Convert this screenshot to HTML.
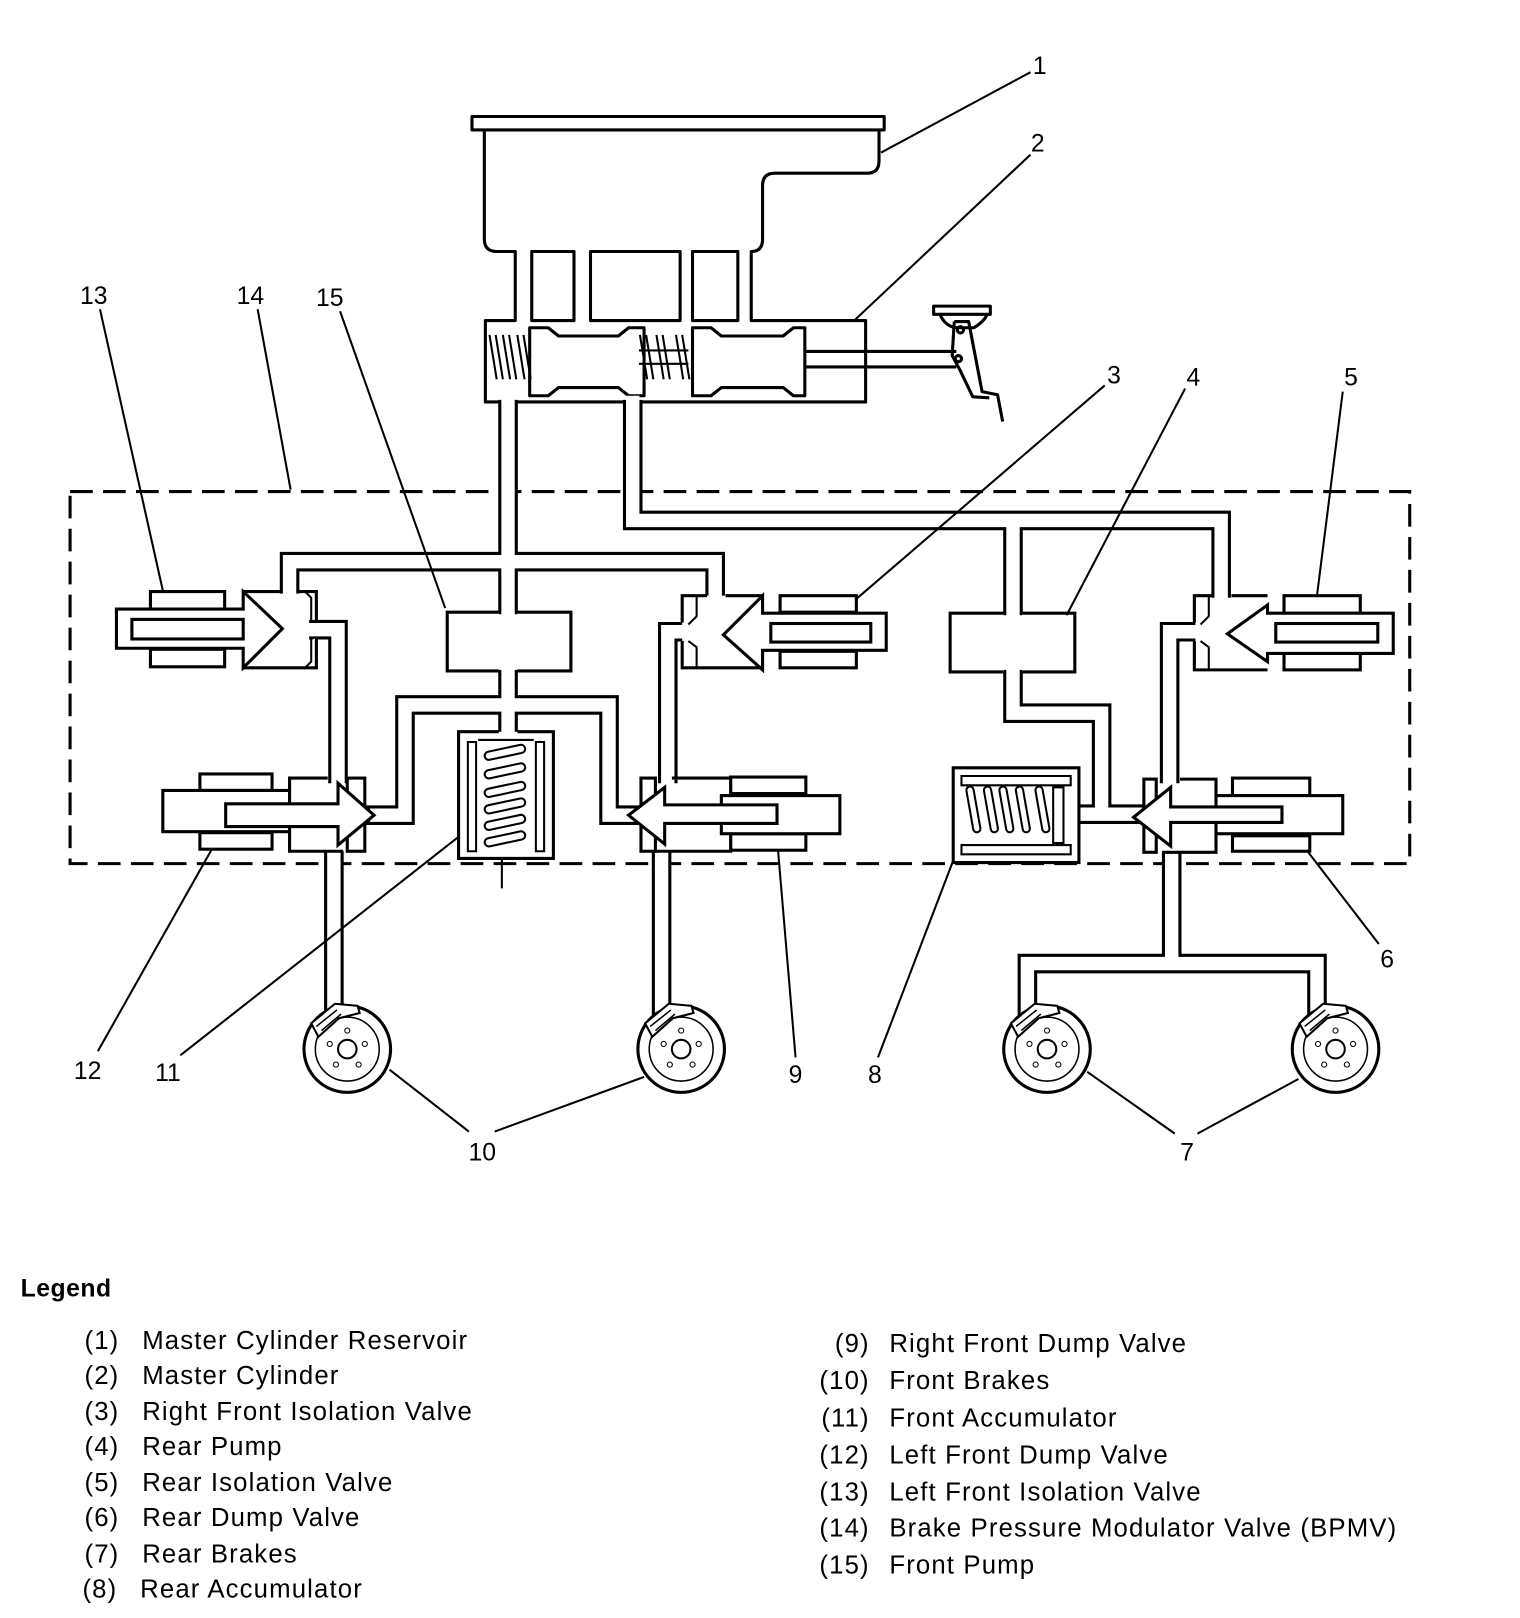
<!DOCTYPE html>
<html><head><meta charset="utf-8"><style>
html,body{margin:0;padding:0;background:#fff}
svg{display:block}
text{font-family:"Liberation Sans",sans-serif;fill:#000}
</style></head><body>
<svg width="1520" height="1618" viewBox="0 0 1475 1570" xmlns="http://www.w3.org/2000/svg">
<rect x="0" y="0" width="1475" height="1570" fill="#fff"/>
<rect x="68" y="477" width="1300" height="361" fill="none" stroke="#000" stroke-width="3" stroke-dasharray="22,10"/>

<g fill="none" stroke="#000" stroke-width="3" stroke-linejoin="round">
<rect x="458" y="113" width="400" height="13" fill="#fff"/>
<path d="M470,126 V232 Q470,244 482,244 H500 V311 H471 V390 H484 M502,390 H606 M623,390 H840 V311 H729 V244 Q740,244 740,232 V180 Q740,168 752,168 H842 Q853,168 853,156 V126"/>
<rect x="516" y="244" width="41" height="67"/>
<rect x="573" y="244" width="87" height="67"/>
<rect x="672" y="244" width="44" height="67"/>
<path d="M514,318 H532 L542,326 H600 L610,318 H625 V384 H610 L600,376 H542 L532,384 H514 Z" fill="#fff"/>
<path d="M672,318 H690 L700,326 H760 L770,318 H781 V384 H770 L760,376 H700 L690,384 H672 Z" fill="#fff"/>
<path d="M475,325 L482,368 M481,325 L488,368 M488,325 L495,368 M494,325 L501,368 M502,325 L509,368 M508,325 L515,368" stroke-width="2"/>
<path d="M621,325 L628,368 M627,325 L634,368 M637,325 L644,368 M643,325 L650,368 M656,325 L663,368 M662,325 L669,368" stroke-width="2"/>
<path d="M620,340 H668 M620,353 H668" stroke-width="2"/>
<path d="M781,341 H928 M781,356 H928"/>
<rect x="906" y="297" width="55" height="8"/>
<path d="M912,305 Q918,318 930,318 L945,318 Q955,312 958,305"/>
<path d="M926,312 L940,312 L953,380 L968,383 L973,409 M926,312 L924,345 L932,360 L944,385 L960,386"/>
<circle cx="932" cy="320" r="3"/><circle cx="930" cy="348" r="3"/>
</g>

<g fill="none" stroke-linejoin="miter" stroke-linecap="butt">
<g stroke="#000" stroke-width="19">
<path d="M281,576 V545 H694 V578 M493,388 V545 M493,545 V596"/>
<path d="M355,791 H393 V684 H591 V791 H622 M493,650 V712"/>
<path d="M300,611 H328 V760 M324,826 V985"/>
<path d="M662,613 H648 V760 M642,826 V985"/>
<path d="M614,388 V505 H1185 V580 M983,505 V597"/>
<path d="M983,650 V692 H1069 V782 M1045,790 H1112"/>
<path d="M1160,613 H1135 V760 M997,985 V935 H1278 V985 M1137,826 V935"/>
</g>
<g stroke="#fff" stroke-width="13">
<path d="M281,580 V545 H694 V582 M493,384 V545 M493,545 V600"/>
<path d="M359,791 H393 V684 H591 V791 H626 M493,646 V716"/>
<path d="M296,611 H328 V764 M324,822 V990"/>
<path d="M666,613 H648 V764 M642,822 V990"/>
<path d="M614,384 V505 H1185 V584 M983,505 V600"/>
<path d="M983,646 V692 H1069 V786 M1041,790 H1116"/>
<path d="M1164,613 H1135 V764 M997,990 V935 H1278 V990 M1137,822 V935"/>
</g>
</g>

<g fill="#fff" stroke="#000" stroke-width="3" stroke-linejoin="miter">
<path d="M484,594 H434 V651 H484 M502,651 H554 V594 H502"/>
<path d="M974,595 H922 V652 H974 M992,652 H1043 V595 H992"/>

<path d="M236,574 H272 M290,574 H307 V604 M307,619 V648 H236"/>
<path d="M296,574 L302,580 V604 M296,648 L302,642 V619" fill="none" stroke-width="2"/>
<rect x="146" y="574" width="72" height="17"/><rect x="146" y="630" width="72" height="17"/>
<path d="M113,591 H236 V574 L274,610 L236,648 V629 H113 Z"/>
<rect x="128" y="601" width="108" height="19"/>

<path d="M740,578 H704 M686,578 H662 V604 M662,622 V648 H740"/>
<path d="M676,578 V598 L668,606 M676,648 V628 L668,622" fill="none" stroke-width="2"/>
<rect x="757" y="578" width="74" height="16"/><rect x="757" y="632" width="74" height="16"/>
<path d="M860,595 H740 V578 L702,616 L740,650 V631 H860 Z"/>
<rect x="748" y="605" width="97" height="18"/>

<path d="M1230,578 H1195 M1176,578 H1159 V604 M1159,622 V650 H1230"/>
<path d="M1173,578 V598 L1165,606 M1173,650 V628 L1165,622" fill="none" stroke-width="2"/>
<rect x="1246" y="578" width="74" height="17"/><rect x="1246" y="634" width="74" height="16"/>
<path d="M1352,595 H1230 V587 L1191,615 L1230,642 V634 H1352 Z"/>
<rect x="1238" y="605" width="99" height="18"/>

<rect x="194" y="751" width="70" height="16"/><rect x="194" y="808" width="70" height="16"/>
<path d="M281,767 V755 H318 M333,826 H281 V807"/>
<rect x="337" y="755" width="17" height="71"/>
<rect x="158" y="767" width="123" height="40"/>
<path d="M219,780 H328 V760 L363,791 L328,820 V802 H219 Z"/>

<rect x="709" y="754" width="73" height="16"/><rect x="709" y="809" width="73" height="16"/>
<path d="M709,772 V755 H652 M633,826 H709 V809"/>
<rect x="622" y="755" width="14" height="71"/>
<rect x="700" y="772" width="115" height="37"/>
<path d="M754,781 H645 V764 L610,791 L645,819 V799 H754 Z"/>

<rect x="1196" y="755" width="75" height="17"/><rect x="1196" y="811" width="75" height="15"/>
<path d="M1180,772 V756 H1145 M1128,827 H1180 V809"/>
<rect x="1110" y="756" width="12" height="71"/>
<rect x="1180" y="772" width="123" height="37"/>
<path d="M1244,783 H1136 V764 L1100,793 L1136,821 V798 H1244 Z"/>

<path d="M484,710 H445 V833 H537 V710 H502"/>
<path d="M454,720 V826 H462 V720 Z M520,720 V826 H528 V720 Z M464,718 H518" stroke-width="2"/>
<g stroke-width="2" fill="#fff">
<rect x="470" y="726" width="40" height="8" rx="4" transform="rotate(-12 490 730)"/>
<rect x="470" y="744" width="40" height="8" rx="4" transform="rotate(-12 490 748)"/>
<rect x="470" y="762" width="40" height="8" rx="4" transform="rotate(-12 490 766)"/>
<rect x="470" y="778" width="40" height="8" rx="4" transform="rotate(-12 490 782)"/>
<rect x="470" y="794" width="40" height="8" rx="4" transform="rotate(-12 490 798)"/>
<rect x="470" y="810" width="40" height="8" rx="4" transform="rotate(-12 490 814)"/>
</g>
<path d="M487,833 V862" fill="none" stroke-width="2"/>

<path d="M1047,783 V837 H925 V745 H1047 V797"/>
<path d="M933,753 H1039 V762 H933 Z M933,820 H1039 V829 H933 Z M1022,764 V818 H1032 V764 Z" stroke-width="2"/>
<g stroke-width="2" fill="#fff">
<rect x="941" y="763" width="7" height="45" rx="3.5" transform="rotate(-10 944 785)"/>
<rect x="958" y="763" width="7" height="45" rx="3.5" transform="rotate(-10 961 785)"/>
<rect x="973" y="763" width="7" height="45" rx="3.5" transform="rotate(-10 976 785)"/>
<rect x="989" y="763" width="7" height="45" rx="3.5" transform="rotate(-10 992 785)"/>
<rect x="1008" y="763" width="7" height="45" rx="3.5" transform="rotate(-10 1011 785)"/>
</g>
</g>

<g fill="#fff" stroke="#000">
<g transform="translate(337,1018)">
<circle r="42" stroke-width="3"/><circle r="31" stroke-width="1.5"/><circle r="9" stroke-width="2"/>
<circle cx="0" cy="-18" r="2.5"/><circle cx="17" cy="-5" r="2.5"/><circle cx="11" cy="15" r="2.5"/><circle cx="-11" cy="15" r="2.5"/><circle cx="-17" cy="-5" r="2.5"/>
<path d="M-35,-25 L-12,-44 L10,-42 L12,-35 L-8,-30 L-28,-12 Z" stroke-width="2"/>
<path d="M-30,-22 L-10,-38 M-25,-18 L-6,-34" stroke-width="1.5"/>
</g>
<g transform="translate(661,1018)">
<circle r="42" stroke-width="3"/><circle r="31" stroke-width="1.5"/><circle r="9" stroke-width="2"/>
<circle cx="0" cy="-18" r="2.5"/><circle cx="17" cy="-5" r="2.5"/><circle cx="11" cy="15" r="2.5"/><circle cx="-11" cy="15" r="2.5"/><circle cx="-17" cy="-5" r="2.5"/>
<path d="M-35,-25 L-12,-44 L10,-42 L12,-35 L-8,-30 L-28,-12 Z" stroke-width="2"/>
<path d="M-30,-22 L-10,-38 M-25,-18 L-6,-34" stroke-width="1.5"/>
</g>
<g transform="translate(1016,1018)">
<circle r="42" stroke-width="3"/><circle r="31" stroke-width="1.5"/><circle r="9" stroke-width="2"/>
<circle cx="0" cy="-18" r="2.5"/><circle cx="17" cy="-5" r="2.5"/><circle cx="11" cy="15" r="2.5"/><circle cx="-11" cy="15" r="2.5"/><circle cx="-17" cy="-5" r="2.5"/>
<path d="M-35,-25 L-12,-44 L10,-42 L12,-35 L-8,-30 L-28,-12 Z" stroke-width="2"/>
<path d="M-30,-22 L-10,-38 M-25,-18 L-6,-34" stroke-width="1.5"/>
</g>
<g transform="translate(1296,1018)">
<circle r="42" stroke-width="3"/><circle r="31" stroke-width="1.5"/><circle r="9" stroke-width="2"/>
<circle cx="0" cy="-18" r="2.5"/><circle cx="17" cy="-5" r="2.5"/><circle cx="11" cy="15" r="2.5"/><circle cx="-11" cy="15" r="2.5"/><circle cx="-17" cy="-5" r="2.5"/>
<path d="M-35,-25 L-12,-44 L10,-42 L12,-35 L-8,-30 L-28,-12 Z" stroke-width="2"/>
<path d="M-30,-22 L-10,-38 M-25,-18 L-6,-34" stroke-width="1.5"/>
</g>
</g>

<g stroke="#000" stroke-width="2" fill="none">
<path d="M1000,70 L855,148"/>
<path d="M1000,150 L830,310"/>
<path d="M1072,374 L830,582"/>
<path d="M1150,377 L1035,597"/>
<path d="M1303,380 L1278,578"/>
<path d="M1338,916 L1268,825"/>
<path d="M1140,1100 L1055,1040 M1162,1100 L1260,1047"/>
<path d="M852,1026 L925,835"/>
<path d="M772,1026 L755,825"/>
<path d="M455,1098 L378,1038 M480,1098 L625,1045"/>
<path d="M175,1024 L445,812"/>
<path d="M95,1020 L205,825"/>
<path d="M97,300 L158,573"/>
<path d="M250,300 L282,475"/>
<path d="M330,302 L432,590"/>
</g>

<g font-size="24" text-anchor="middle">
<text x="1009" y="72">1</text>
<text x="1007" y="147">2</text>
<text x="1081" y="372">3</text>
<text x="1158" y="374">4</text>
<text x="1311" y="374">5</text>
<text x="1346" y="939">6</text>
<text x="1152" y="1126">7</text>
<text x="849" y="1051">8</text>
<text x="772" y="1051">9</text>
<text x="468" y="1126">10</text>
<text x="163" y="1049">11</text>
<text x="85" y="1047">12</text>
<text x="91" y="295">13</text>
<text x="243" y="295">14</text>
<text x="320" y="297">15</text>
</g>

<text x="20" y="1258" font-size="24" font-weight="bold" letter-spacing="0.5">Legend</text>
<g font-size="25" letter-spacing="1.1">
<text x="82" y="1309">(1)</text><text x="138" y="1309">Master Cylinder Reservoir</text>
<text x="82" y="1343">(2)</text><text x="138" y="1343">Master Cylinder</text>
<text x="82" y="1378">(3)</text><text x="138" y="1378">Right Front Isolation Valve</text>
<text x="82" y="1412">(4)</text><text x="138" y="1412">Rear Pump</text>
<text x="82" y="1447">(5)</text><text x="138" y="1447">Rear Isolation Valve</text>
<text x="82" y="1481">(6)</text><text x="138" y="1481">Rear Dump Valve</text>
<text x="82" y="1516">(7)</text><text x="138" y="1516">Rear Brakes</text>
<text x="80" y="1550">(8)</text><text x="136" y="1550">Rear Accumulator</text>
<g text-anchor="end">
<text x="844" y="1312">(9)</text>
<text x="844" y="1348">(10)</text>
<text x="844" y="1384">(11)</text>
<text x="844" y="1420">(12)</text>
<text x="844" y="1456">(13)</text>
<text x="844" y="1491">(14)</text>
<text x="844" y="1527">(15)</text>
</g>
<text x="863" y="1312">Right Front Dump Valve</text>
<text x="863" y="1348">Front Brakes</text>
<text x="863" y="1384">Front Accumulator</text>
<text x="863" y="1420">Left Front Dump Valve</text>
<text x="863" y="1456">Left Front Isolation Valve</text>
<text x="863" y="1491">Brake Pressure Modulator Valve (BPMV)</text>
<text x="863" y="1527">Front Pump</text>
</g>
</svg>
</body></html>
